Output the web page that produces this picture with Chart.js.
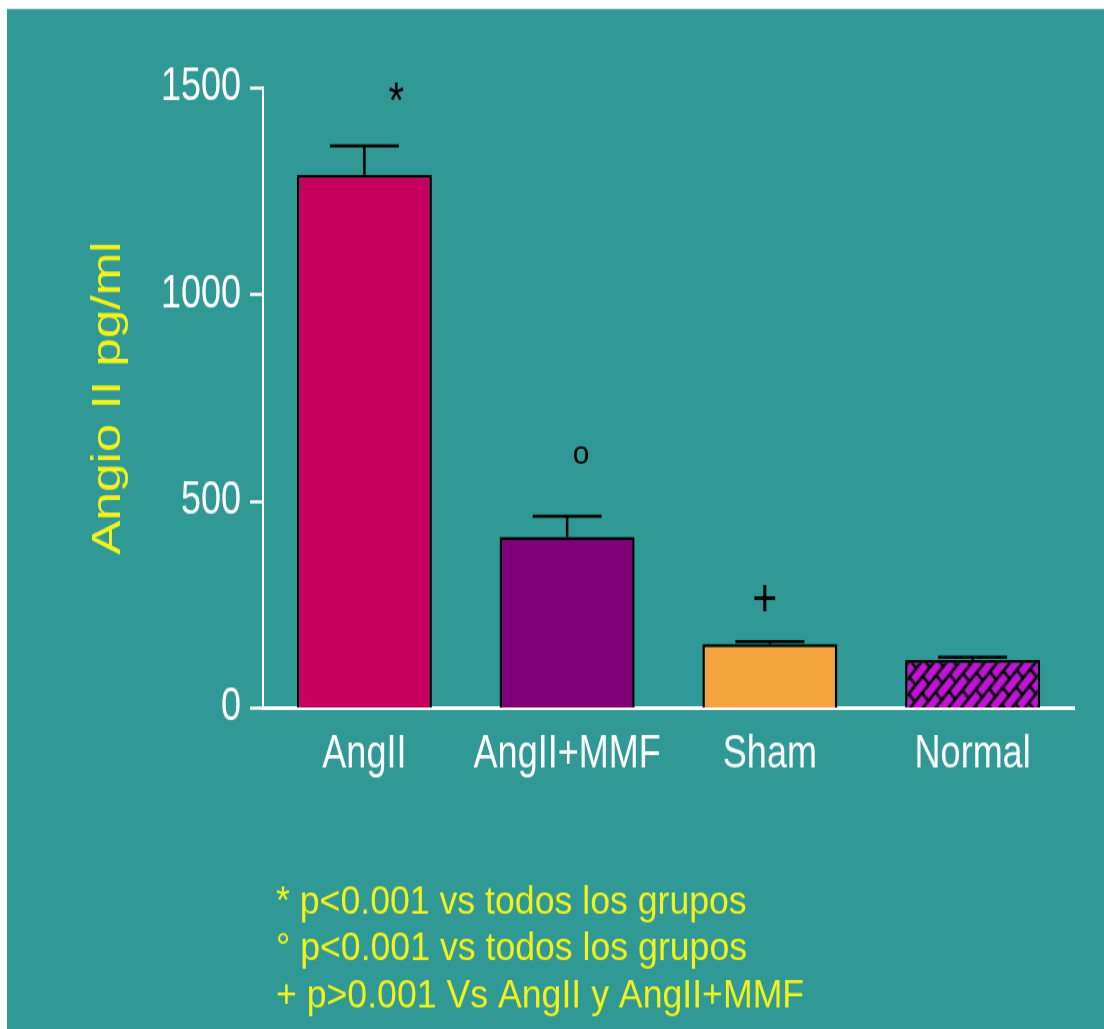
<!DOCTYPE html>
<html>
<head>
<meta charset="utf-8">
<title>Angio II pg/ml</title>
<script src="https://cdn.jsdelivr.net/npm/chart.js@4.4.1/dist/chart.umd.min.js"></script>
<style>
  html, body { margin: 0; padding: 0; background: #fff; }
  body { width: 1104px; height: 1029px; overflow: hidden; }
  /* slide was exported stretched vertically, so the whole drawing is stretched the same way */
  #wrap { width: 1104px; height: 823px; transform: scaleY(1.25); transform-origin: 0 0; }
</style>
</head>
<body>
<div id="wrap"><canvas id="chart" width="1104" height="823"></canvas></div>
<script>
const groups = ['AngII', 'AngII+MMF', 'Sham', 'Normal'];
const means = [1290, 414, 155, 116];
const sem = [70, 50, 6, 7];
const marks = ['*', 'o', '+', ''];
const yTicks = [0, 500, 1000, 1500];
const yTitle = 'Angio II pg/ml';
const notes = [
  '* p<0.001 vs todos los grupos',
  '° p<0.001 vs todos los grupos',
  '+ p>0.001 Vs AngII y AngII+MMF'
];

const TEAL = '#319995';
const YELLOW = '#F2F21C';
const FONT = "'Liberation Sans', Arial, sans-serif";

// marker placement relative to the top of each error bar
const markStyle = {
  '*': { size: 40, dx: 32, dy: -43, sx: 1 },
  'o': { size: 26, dx: 14, dy: -49, sx: 1.15 },
  '+': { size: 43, dx: -5, dy: -35, sx: 1 }
};

// brick hatch used on the Normal bar
function brickPattern() {
  const tile = document.createElement('canvas');
  tile.width = 20;
  tile.height = 18;
  const c = tile.getContext('2d');
  c.fillStyle = '#C014D6';
  c.fillRect(0, 0, 20, 18);
  c.strokeStyle = '#000';
  c.lineWidth = 2.5;
  c.beginPath();
  c.moveTo(0, 0); c.lineTo(20, 0);
  c.moveTo(0, 9); c.lineTo(20, 9);
  c.moveTo(0, 18); c.lineTo(20, 18);
  c.moveTo(0, 0); c.lineTo(0, 9);
  c.moveTo(20, 0); c.lineTo(20, 9);
  c.moveTo(10, 9); c.lineTo(10, 18);
  c.stroke();
  const p = document.getElementById('chart').getContext('2d').createPattern(tile, 'repeat');
  p.setTransform(new DOMMatrix().rotateSelf(-45));
  return p;
}

const panel = {
  id: 'panel',
  beforeDraw(chart) {
    const ctx = chart.ctx;
    ctx.save();
    ctx.fillStyle = '#fff';
    ctx.fillRect(0, 0, chart.width, chart.height);
    ctx.fillStyle = TEAL;
    ctx.fillRect(7, 7.2, chart.width - 7, chart.height - 7.2);
    ctx.restore();
  }
};

const errorBars = {
  id: 'errorBars',
  afterDatasetsDraw(chart) {
    const ctx = chart.ctx;
    const y = chart.scales.y;
    const bars = chart.getDatasetMeta(0).data;
    ctx.save();
    ctx.strokeStyle = '#000';
    ctx.fillStyle = '#000';
    ctx.lineWidth = 2.5;
    bars.forEach((bar, i) => {
      const top = y.getPixelForValue(means[i] + sem[i]);
      ctx.beginPath();
      ctx.moveTo(bar.x, bar.y);
      ctx.lineTo(bar.x, top);
      ctx.moveTo(bar.x - 34.5, top);
      ctx.lineTo(bar.x + 34.5, top);
      ctx.stroke();

      const m = markStyle[marks[i]];
      if (!m) return;
      ctx.font = m.size + 'px ' + FONT;
      ctx.textAlign = 'center';
      ctx.textBaseline = 'alphabetic';
      const box = ctx.measureText(marks[i]);
      const mid = (box.actualBoundingBoxAscent - box.actualBoundingBoxDescent) / 2;
      ctx.save();
      ctx.translate(bar.x + m.dx, top + m.dy + mid);
      ctx.scale(m.sx, 1);
      ctx.fillText(marks[i], 0, 0);
      ctx.restore();
    });
    ctx.restore();
  }
};

const footnotes = {
  id: 'footnotes',
  afterDraw(chart) {
    const ctx = chart.ctx;
    ctx.save();
    ctx.fillStyle = YELLOW;
    ctx.font = '31px ' + FONT;
    ctx.textAlign = 'left';
    ctx.textBaseline = 'middle';
    notes.forEach((t, i) => {
      ctx.save();
      ctx.translate(276, 722 + i * 37.6);
      ctx.scale(1.15, 1);
      ctx.fillText(t, 0, 0);
      ctx.restore();
    });
    ctx.restore();
  }
};

Chart.defaults.font.family = FONT;

new Chart(document.getElementById('chart'), {
  type: 'bar',
  data: {
    labels: groups,
    datasets: [{
      data: means,
      backgroundColor: ['#C70060', '#800078', '#F4A43F', brickPattern()],
      borderColor: '#000',
      borderWidth: 2.5,
      borderSkipped: 'bottom',
      barPercentage: 0.666,
      categoryPercentage: 1
    }]
  },
  options: {
    responsive: false,
    animation: false,
    layout: { padding: { top: 70.4, right: 30, bottom: 196.6, left: 0 } },
    plugins: { legend: { display: false }, tooltip: { enabled: false } },
    scales: {
      x: {
        z: 1,
        grid: { display: false },
        border: { display: true, color: '#fff', width: 3 },
        ticks: { color: '#fff', font: { size: 36 }, padding: 8 },
        afterFit(scale) { scale.height = 60; }
      },
      y: {
        min: 0,
        max: 1500,
        afterBuildTicks(scale) { scale.ticks = yTicks.map(v => ({ value: v })); },
        grid: { drawOnChartArea: false, tickLength: 13, tickColor: '#fff', tickWidth: 2.5 },
        border: { display: true, color: '#fff', width: 2 },
        ticks: { color: '#fff', font: { size: 36 }, padding: 9, callback: v => String(v) },
        title: { display: true, text: yTitle, color: YELLOW, font: { size: 41 }, padding: { top: 84 } },
        afterFit(scale) { scale.width = 263; }
      }
    }
  },
  plugins: [panel, errorBars, footnotes]
});
</script>
</body>
</html>
